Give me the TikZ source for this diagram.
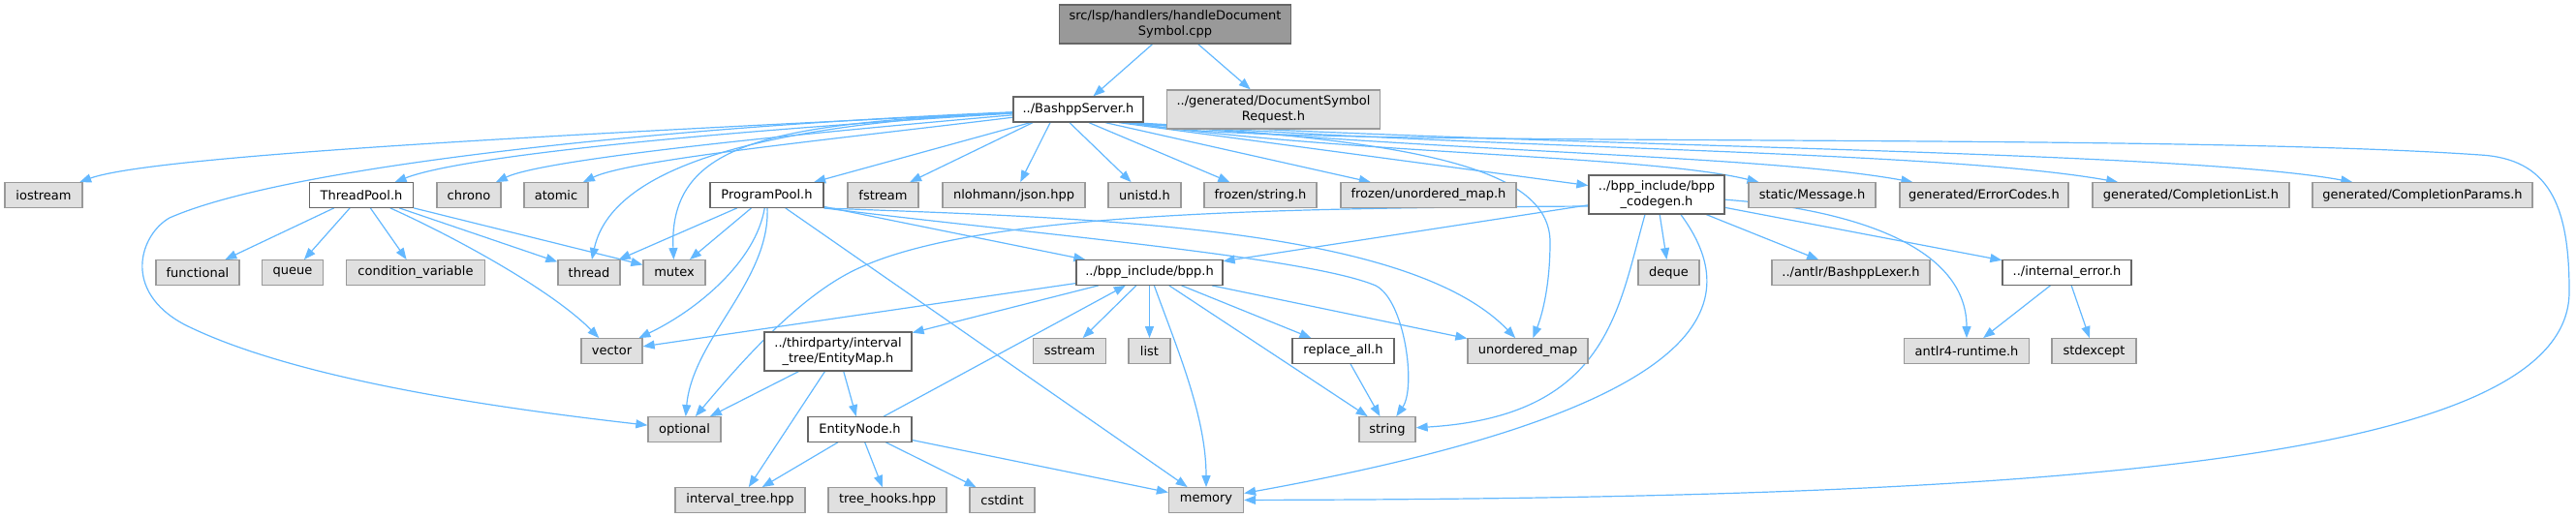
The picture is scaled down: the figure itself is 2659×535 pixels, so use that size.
\documentclass[tikz,border=0pt]{standalone}
\usepackage{fontspec}
\setmainfont{DejaVu Sans}
\usetikzlibrary{arrows.meta}
\definecolor{edgec}{HTML}{63B8FF}
\definecolor{grayfill}{HTML}{E0E0E0}
\definecolor{graydraw}{HTML}{999999}
\definecolor{whitedraw}{HTML}{666666}
\definecolor{topfill}{HTML}{999999}
\pgfdeclarelayer{bg}
\pgfsetlayers{bg,main}
\begin{document}
\begin{tikzpicture}[x=1pt,y=-1pt,
  base/.style={rectangle, inner sep=0pt, align=center, font=\fontsize{13}{15.5}\selectfont, line width=1.3pt, minimum height=25.5pt},
  sys/.style={base, fill=grayfill, draw=graydraw},
  loc/.style={base, fill=white, draw=whitedraw},
  root/.style={base, fill=topfill, draw=whitedraw},
  edge/.style={draw=edgec, line width=1.2pt, -{Triangle[length=12pt,width=9pt]}}
]
\useasboundingbox (0,0) rectangle (2659,535);
% row 0 / 1
\node[root, minimum width=239pt, minimum height=40pt] (top) at (1213,25) {src/lsp/handlers/handleDocument\\Symbol.cpp};
\node[loc, minimum width=134pt, minimum height=26pt] (bashpp) at (1113,113) {../BashppServer.h};
\node[sys, minimum width=220pt, minimum height=40pt] (docsym) at (1314.5,113) {../generated/DocumentSymbol\\Request.h};
% row 2
\node[sys, minimum width=80pt] (iostream) at (45,201.5) {iostream};
\node[loc, minimum width=107pt] (threadpool) at (373,201.5) {ThreadPool.h};
\node[sys, minimum width=66pt] (chrono) at (484,201.5) {chrono};
\node[sys, minimum width=66pt] (atomic) at (574,201.5) {atomic};
\node[loc, minimum width=117pt] (programpool) at (791.5,201.5) {ProgramPool.h};
\node[sys, minimum width=73pt] (fstream) at (911.5,201.5) {fstream};
\node[sys, minimum width=147pt] (nlohmann) at (1046.5,201.5) {nlohmann/json.hpp};
\node[sys, minimum width=75pt] (unistd) at (1181.5,201.5) {unistd.h};
\node[sys, minimum width=116pt] (fstring) at (1301,201.5) {frozen/string.h};
\node[sys, minimum width=181pt] (fumap) at (1474.5,201.5) {frozen/unordered\_map.h};
\node[loc, minimum width=140pt, minimum height=40pt] (codegen) at (1710,201) {../bpp\_include/bpp\\\_codegen.h};
\node[sys, minimum width=131pt] (staticmsg) at (1870.5,201.5) {static/Message.h};
\node[sys, minimum width=174pt] (errcodes) at (2048,201.5) {generated/ErrorCodes.h};
\node[sys, minimum width=203pt] (complist) at (2261.5,201.5) {generated/CompletionList.h};
\node[sys, minimum width=227pt] (compparams) at (2500.5,201.5) {generated/CompletionParams.h};
% row 3
\node[sys, minimum width=86pt] (functional) at (204,281.5) {functional};
\node[sys, minimum width=63pt] (queue) at (302,281.5) {queue};
\node[sys, minimum width=143pt] (condvar) at (429,281.5) {condition\_variable};
\node[sys, minimum width=64pt] (thread) at (608,281.5) {thread};
\node[sys, minimum width=64pt] (mutex) at (696,281.5) {mutex};
\node[loc, minimum width=151pt] (bpph) at (1186.5,281.5) {../bpp\_include/bpp.h};
\node[sys, minimum width=63pt] (deque) at (1722.5,281.5) {deque};
\node[sys, minimum width=163pt] (lexer) at (1910.5,281.5) {../antlr/BashppLexer.h};
\node[loc, minimum width=133pt] (interr) at (2133.5,281.5) {../internal\_error.h};
% row 4
\node[sys, minimum width=63pt] (vector) at (631.5,362.5) {vector};
\node[loc, minimum width=152pt, minimum height=40pt] (entitymap) at (865,363) {../thirdparty/interval\\\_tree/EntityMap.h};
\node[sys, minimum width=75pt] (sstream) at (1104,362.5) {sstream};
\node[sys, minimum width=43pt] (list) at (1186.5,362.5) {list};
\node[loc, minimum width=105pt] (replaceall) at (1386.5,362.5) {replace\_all.h};
\node[sys, minimum width=124pt] (umap) at (1577,362.5) {unordered\_map};
\node[sys, minimum width=128.5pt] (antlrrt) at (2030,362.5) {antlr4-runtime.h};
\node[sys, minimum width=87pt] (stdexcept) at (2161.5,362.5) {stdexcept};
% row 5
\node[sys, minimum width=75pt] (optional) at (706.5,443.5) {optional};
\node[loc, minimum width=107pt] (entitynode) at (887.5,443.5) {EntityNode.h};
\node[sys, minimum width=58pt] (string) at (1432,443.5) {string};
% row 6
\node[sys, minimum width=134pt] (intervaltree) at (764,516.5) {interval\_tree.hpp};
\node[sys, minimum width=122pt] (treehooks) at (916,516.5) {tree\_hooks.hpp};
\node[sys, minimum width=67pt] (cstdint) at (1034.5,516.5) {cstdint};
\node[sys, minimum width=77pt] (memory) at (1245,516.5) {memory};

\begin{pgfonlayer}{bg}
% ---- edges: top file
\draw[edge] (top) -- (bashpp);
\draw[edge] (top) -- (docsym);
% ---- BashppServer.h
\draw[edge] (bashpp) .. controls (600,138) and (160,160) .. (iostream);
\draw[edge] (bashpp) .. controls (700,130) and (300,170) .. (175,225) .. controls (145,242) and (125,300) .. (190,335) .. controls (300,390) and (500,420) .. (optional);
\draw[edge] (bashpp) .. controls (750,135) and (480,160) .. (threadpool);
\draw[edge] (bashpp) .. controls (800,140) and (560,165) .. (chrono);
\draw[edge] (bashpp) .. controls (850,145) and (650,165) .. (atomic);
\draw[edge] (bashpp) .. controls (760,130) and (630,180) .. (thread);
\draw[edge] (bashpp) .. controls (800,128) and (690,145) .. (mutex);
\draw[edge] (bashpp) -- (programpool);
\draw[edge] ([xshift=-47pt]bashpp.south) -- (fstream);
\draw[edge] ([xshift=-29pt]bashpp.south) -- (nlohmann);
\draw[edge] ([xshift=-9pt]bashpp.south) -- (unistd);
\draw[edge] ([xshift=11pt]bashpp.south) -- (fstring);
\draw[edge] ([xshift=28pt]bashpp.south) -- (fumap);
\draw[edge] ([xshift=42pt]bashpp.south) -- (codegen);
\draw[edge] ([xshift=50pt]bashpp.south) .. controls (1400,160) and (1700,160) .. (staticmsg);
\draw[edge] ([xshift=52pt]bashpp.south) .. controls (1500,158) and (1820,160) .. (errcodes);
\draw[edge] ([xshift=54pt]bashpp.south) .. controls (1550,155) and (2000,155) .. (complist);
\draw[edge] ([xshift=56pt]bashpp.south) .. controls (1600,152) and (2250,155) .. (compparams);
\draw[edge] ([xshift=46pt]bashpp.south) .. controls (1450,145) and (1600,170) .. (1600,250) .. controls (1600,300) and (1590,330) .. (umap);
\draw[edge] ([xshift=62pt]bashpp.south) .. controls (1250,155) and (2200,135) .. (2560,160) .. controls (2630,164) and (2652,210) .. (2652,300) .. controls (2655,480) and (2100,515) .. (memory);
% ---- ThreadPool.h
\draw[edge] (threadpool) -- (functional);
\draw[edge] (threadpool) -- (queue);
\draw[edge] (threadpool) -- (condvar);
\draw[edge] (threadpool) .. controls (470,245) and (570,300) .. (vector);
\draw[edge] (threadpool) -- (thread);
\draw[edge] (threadpool) -- (mutex);
% ---- ProgramPool.h
\draw[edge] (programpool) -- (thread);
\draw[edge] (programpool) -- (mutex);
\draw[edge] (programpool) .. controls (780,270) and (720,320) .. (vector);
\draw[edge] (programpool) .. controls (795,290) and (715,350) .. (optional);
\draw[edge] (programpool) -- (memory);
\draw[edge] (programpool) -- (bpph);
\draw[edge] (programpool.south east) .. controls (1050,240) and (1350,265) .. (1420,295) .. controls (1450,310) and (1462,400) .. (string);
\draw[edge] (programpool.south east) .. controls (1100,225) and (1450,230) .. (umap);
% ---- bpp_codegen.h
\draw[edge] (codegen) -- (bpph);
\draw[edge] ([yshift=-12pt]codegen.west) .. controls (1300,215) and (1000,220) .. (880,280) .. controls (820,310) and (760,380) .. (optional);
\draw[edge] ([xshift=-12pt]codegen.south) .. controls (1670,320) and (1660,430) .. (string);
\draw[edge] (codegen) -- (deque);
\draw[edge] ([xshift=25pt]codegen.south) .. controls (1800,310) and (1780,420) .. (memory);
\draw[edge] (codegen) -- (lexer);
\draw[edge] (codegen) .. controls (1900,215) and (2030,250) .. (antlrrt);
\draw[edge] (codegen) -- (interr);
% ---- internal_error.h
\draw[edge] (interr) -- (antlrrt);
\draw[edge] (interr) -- (stdexcept);
% ---- bpp.h
\draw[edge] (bpph) -- (vector);
\draw[edge] (bpph) -- (entitymap);
\draw[edge] (bpph) -- (sstream);
\draw[edge] (bpph) -- (list);
\draw[edge] (bpph) .. controls (1215,360) and (1245,430) .. (memory);
\draw[edge] (bpph) -- (string);
\draw[edge] (bpph) -- (replaceall);
\draw[edge] (bpph) -- (umap);
% ---- EntityMap.h
\draw[edge] (entitymap) -- (optional);
\draw[edge] (entitymap) -- (intervaltree);
\draw[edge] (entitymap) -- (entitynode);
% ---- EntityNode.h
\draw[edge] (entitynode) -- (bpph);
\draw[edge] (entitynode) -- (intervaltree);
\draw[edge] (entitynode) -- (treehooks);
\draw[edge] (entitynode) -- (cstdint);
\draw[edge] (entitynode) -- (memory);
% ---- replace_all.h
\draw[edge] (replaceall) -- (string);
\end{pgfonlayer}
\end{tikzpicture}
\end{document}
